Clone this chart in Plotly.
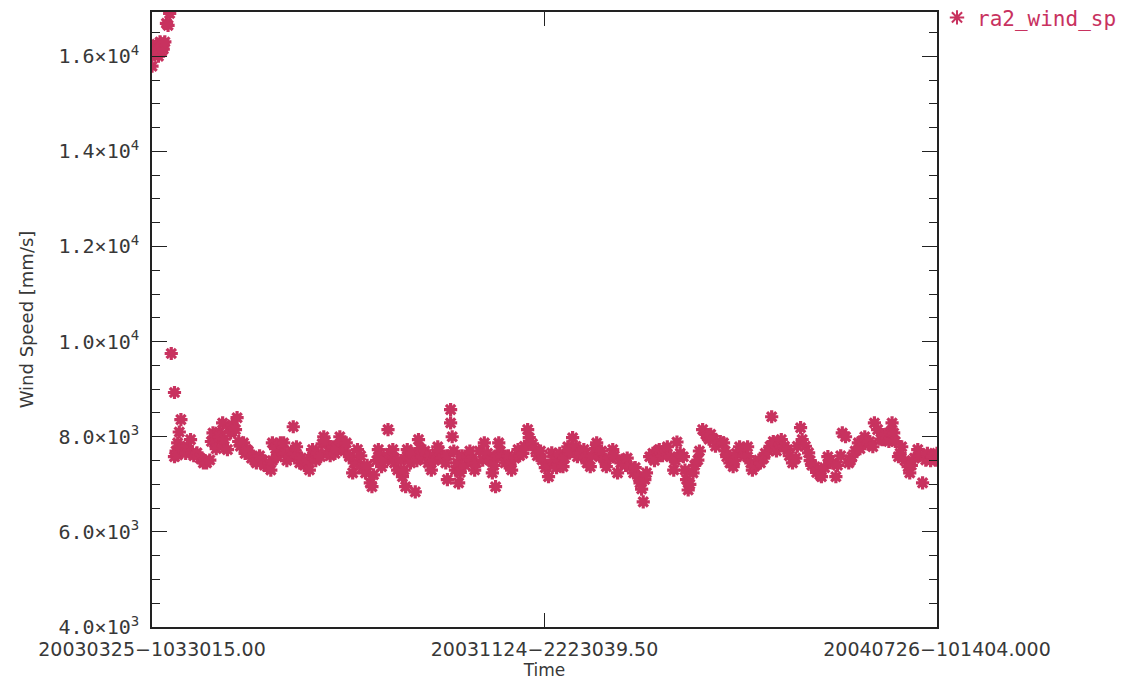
import datetime as dt
import plotly.graph_objects as go

# ---------------- data ----------------
start_time = dt.datetime(2003, 3, 25, 10, 33, 1, 500000)
end_time = dt.datetime(2004, 7, 26, 10, 14, 4)

# days since start_time
day_offsets = [
    0, 1, 2, 2, 3, 4, 4, 5, 6, 6, 7, 7, 8, 9, 10, 11,
    12, 14, 14, 15, 16, 16, 17, 18, 19, 21, 22, 24, 25, 26, 28, 30, 32, 33, 34, 36,
    37, 38, 39, 40, 42, 42, 44, 44, 45, 47, 48, 49, 50, 52, 53, 54, 55, 57, 58, 59,
    60, 62, 63, 64, 65, 67, 69, 70, 72, 73, 74, 75, 75, 77, 78, 80, 81, 82, 83, 84,
    86, 87, 88, 89, 90, 91, 92, 93, 95, 97, 98, 100, 100, 102, 103, 105, 106, 107, 108, 110,
    111, 113, 114, 115, 117, 118, 120, 121, 123, 123, 125, 126, 128, 128, 130, 131, 133, 134, 136, 137,
    138, 140, 141, 142, 143, 145, 147, 148, 150, 151, 151, 153, 155, 156, 157, 158, 159, 159, 161, 162,
    164, 165, 166, 167, 168, 170, 172, 173, 174, 176, 177, 178, 179, 181, 183, 184, 184, 186, 186, 187,
    188, 189, 190, 191, 192, 193, 195, 197, 198, 199, 201, 202, 204, 206, 207, 209, 211, 212, 213, 214,
    215, 216, 217, 218, 220, 222, 223, 224, 226, 228, 229, 231, 232, 234, 235, 237, 239, 240, 242, 243,
    245, 247, 248, 249, 250, 252, 253, 254, 256, 257, 259, 260, 262, 264, 265, 267, 269, 270, 271, 273,
    274, 276, 277, 279, 280, 282, 283, 285, 287, 288, 290, 292, 293, 295, 296, 298, 300, 301, 303, 304,
    305, 306, 307, 308, 310, 312, 313, 315, 316, 318, 320, 321, 323, 325, 326, 327, 329, 331, 332, 333,
    334, 335, 337, 338, 340, 341, 343, 345, 346, 347, 348, 350, 351, 354, 356, 357, 358, 360, 362, 363,
    364, 366, 368, 369, 371, 371, 373, 374, 376, 378, 379, 381, 382, 384, 385, 386, 387, 388, 389, 391,
    392, 394, 396, 397, 399, 401, 402, 404, 405, 407, 409, 410, 411, 413, 414, 416, 417, 419, 421, 422,
    424, 426, 427, 429, 430, 432, 434, 435, 436, 438, 440, 441, 442, 444, 446, 447, 449, 450, 452, 454,
    455, 457, 459, 460, 461, 462, 463, 465, 466, 467, 469, 471, 472, 473, 475, 477, 478, 480, 482, 483,
    485, 486, 488, 489,
]

# wind speed [mm/s]
wind_speed = [
    15790, 16050, 16200, 16100, 16250, 16000, 16150, 16300, 16100, 16200, 16250, 16150, 16300, 16690, 16650, 16900,
    9750, 8930, 7580, 7700, 7870, 7620, 8100, 8360, 7750, 7650, 7800, 7940, 7660, 7600, 7660, 7550, 7450, 7500, 7450, 7510,
    7900, 8080, 7870, 7750, 8100, 8000, 7800, 8290, 7950, 7730, 8200, 8080, 8250, 8150, 8400, 7900, 7800, 7870, 7650, 7730,
    7700, 7550, 7580, 7500, 7450, 7600, 7500, 7400, 7370, 7450, 7300, 7500, 7870, 7750, 7580, 7870, 7700, 7870, 7650, 7500,
    7580, 7700, 8210, 7650, 7790, 7580, 7450, 7550, 7400, 7500, 7300, 7600, 7730, 7500, 7650, 7580, 7850, 8000, 7900, 7700,
    7600, 7790, 7650, 7750, 8000, 7900, 7700, 7870, 7600, 7580, 7240, 7450, 7730, 7450, 7600, 7350, 7240, 7400, 7030, 6950,
    7200, 7500, 7730, 7600, 7370, 7500, 8150, 7650, 7730, 7550, 7450, 7300, 7500, 7160, 7300, 6950, 7600, 7730, 7450, 7650,
    6840, 7500, 7940, 7750, 7580, 7700, 7450, 7600, 7300, 7500, 7650, 7790, 7700, 7550, 7450, 7600, 7100, 8570, 8290, 8000,
    7700, 7300, 7450, 7030, 7250, 7600, 7400, 7580, 7700, 7500, 7300, 7450, 7700, 7510, 7870, 7650, 7500, 7240, 7400, 6950,
    7600, 7870, 7700, 7580, 7450, 7600, 7400, 7300, 7550, 7730, 7600, 7650, 7800, 8150, 7980, 7850, 7730, 7600, 7700, 7510,
    7350, 7160, 7400, 7660, 7500, 7350, 7550, 7650, 7370, 7550, 7790, 7700, 7980, 7800, 7580, 7650, 7730, 7550, 7450, 7370,
    7600, 7750, 7870, 7580, 7700, 7500, 7370, 7550, 7730, 7600, 7240, 7450, 7510, 7400, 7550, 7370, 7240, 7350, 7150, 7030,
    6900, 6630, 7100, 7240, 7580, 7650, 7500, 7700, 7730, 7600, 7700, 7790, 7580, 7300, 7500, 7890, 7650, 7580, 7300, 7100,
    6880, 7000, 7240, 7400, 7510, 7700, 8150, 8050, 8000, 7950, 8050, 7940, 7800, 7900, 7870, 7700, 7580, 7450, 7370, 7500,
    7650, 7790, 7700, 7600, 7580, 7790, 7450, 7300, 7400, 7510, 7450, 7550, 7650, 7700, 7800, 8420, 7900, 7870, 7700, 7850,
    7940, 7800, 7730, 7600, 7450, 7550, 7800, 8190, 7940, 7800, 7660, 7500, 7400, 7370, 7250, 7200, 7160, 7350, 7580, 7500,
    7450, 7160, 7400, 7600, 8080, 8000, 7450, 7500, 7580, 7700, 7870, 7750, 7900, 8000, 7850, 7900, 7790, 8290, 8150, 7950,
    7940, 8050, 7900, 8100, 8290, 8080, 7900, 7580, 7650, 7790, 7500, 7370, 7240, 7400, 7550, 7730, 7600, 7030, 7510, 7650,
    7500, 7580, 7510, 7650,
]
assert len(day_offsets) == len(wind_speed)

y_tick_values = [4000, 6000, 8000, 10000, 12000, 14000, 16000]
y_tick_labels = ["4.0×10<sup>3</sup>", "6.0×10<sup>3</sup>", "8.0×10<sup>3</sup>",
                 "1.0×10<sup>4</sup>", "1.2×10<sup>4</sup>", "1.4×10<sup>4</sup>",
                 "1.6×10<sup>4</sup>"]
x_tick_labels = ["20030325−1033015.00", "20031124−2223039.50", "20040726−101404.000"]
series_name = "ra2_wind_sp"

# ---------------- figure ----------------
COLOR = "#C8325F"
AXC = "#222222"
TXT = "#383838"
MONO = "DejaVu Sans Mono"

times = [start_time + dt.timedelta(days=d) for d in day_offsets]
mid_time = start_time + (end_time - start_time) / 2

fig = go.Figure()
fig.add_trace(go.Scatter(
    x=times, y=wind_speed, mode="markers", name=series_name,
    marker=dict(symbol="asterisk-open", size=11, color=COLOR,
                line=dict(color=COLOR, width=3.2)),
))

# page body has an 8px margin: figure is 1120x674 placed at (8, 8)
fig.update_layout(
    width=1120, height=674,
    margin=dict(l=144, r=191, t=4, b=55, autoexpand=False),
    paper_bgcolor="white", plot_bgcolor="white",
    font=dict(family="DejaVu Sans", size=18, color=TXT),
    showlegend=True,
    legend=dict(x=1.0, y=1.024, xanchor="left", yanchor="top",
                font=dict(color=COLOR, size=21, family=MONO),
                bgcolor="rgba(0,0,0,0)", itemsizing="constant"),
)

fig.update_xaxes(
    type="date", range=[start_time, end_time],
    tickvals=[start_time, mid_time, end_time], ticktext=x_tick_labels,
    tickfont=dict(family="DejaVu Sans", size=19, color=TXT),
    ticks="inside", ticklen=14, tickwidth=1.2, tickcolor=AXC,
    showline=True, linecolor=AXC, linewidth=1.6, mirror="ticks",
    showgrid=False, zeroline=False, ticklabelstandoff=4,
    automargin=False,
    title=dict(text="Time", font=dict(size=17), standoff=2),
)
fig.update_yaxes(
    range=[4000, 16930],
    tickvals=y_tick_values, ticktext=y_tick_labels,
    tickfont=dict(family=MONO, size=20, color=TXT),
    ticks="inside", ticklen=15, tickwidth=1.2, tickcolor=AXC,
    minor=dict(ticks="inside", ticklen=8, dtick=500, tick0=4000,
               tickcolor=AXC, tickwidth=1.2, showgrid=False),
    showline=True, linecolor=AXC, linewidth=1.6, mirror="ticks",
    showgrid=False, zeroline=False, ticklabelstandoff=7,
    automargin=False,
    title=dict(text="Wind Speed [mm/s]", font=dict(size=18), standoff=20),
)

fig.write_html("out.html")
